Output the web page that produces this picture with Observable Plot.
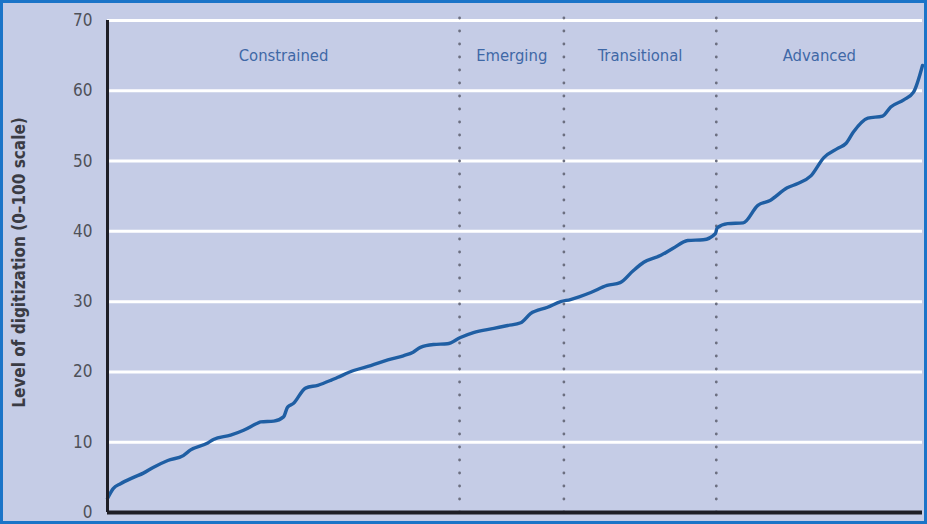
<!DOCTYPE html>
<html>
<head>
<meta charset="utf-8">
<script src="https://cdn.jsdelivr.net/npm/d3@7"></script>
<script src="https://cdn.jsdelivr.net/npm/@observablehq/plot@0.6"></script>
<style>
  html, body { margin: 0; padding: 0; background: #c5cce6; }
  #frame {
    width: 927px; height: 524px; box-sizing: border-box;
    border: 3px solid #1b74c8; background: #c5cce6; overflow: hidden;
  }
  #frame svg { display: block; }
</style>
</head>
<body>
<div id="frame"></div>
<script>
// Country rank, expressed as percentile of countries (0–100), and level of digitization
const rank = [0.0, 0.7, 1.6, 3.2, 4.4, 5.6, 7.4, 9.3, 10.2, 12.3, 13.0, 15.1, 16.7, 18.4, 18.8, 20.4, 21.6, 22.1, 22.8, 24.3, 25.8, 27.4, 28.2, 30.2, 32.3, 34.4, 36.3, 37.5, 38.4, 40.0, 41.7, 43.3, 44.9, 47.4, 49.1, 50.7, 51.9, 54.0, 55.6, 56.8, 59.3, 61.3, 62.9, 64.5, 65.8, 67.9, 69.4, 71.2, 73.1, 74.6, 74.8, 76.1, 78.0, 79.8, 81.3, 83.4, 84.7, 86.3, 87.9, 89.6, 90.6, 91.5, 93.3, 95.1, 96.1, 97.7, 98.9, 100.0];
const level = [2.0, 3.4, 4.1, 5.0, 5.6, 6.4, 7.4, 8.1, 8.9, 9.9, 10.4, 11.0, 11.7, 12.7, 12.9, 13.0, 13.6, 15.0, 15.5, 17.7, 18.1, 18.8, 19.2, 20.2, 20.9, 21.7, 22.3, 22.8, 23.5, 23.9, 24.0, 24.9, 25.6, 26.2, 26.6, 27.0, 28.3, 29.2, 30.0, 30.3, 31.3, 32.3, 32.7, 34.4, 35.6, 36.6, 37.6, 38.7, 38.8, 39.7, 40.5, 41.1, 41.2, 43.7, 44.4, 46.2, 46.8, 47.9, 50.5, 51.8, 52.5, 54.1, 56.1, 56.4, 57.7, 58.7, 59.8, 63.6];
const regions = ["Constrained", "Emerging", "Transitional", "Advanced"];
const boundaries = [0, 43.2, 56.0, 74.7, 100];
const yTicks = [0, 10, 20, 30, 40, 50, 60, 70];
const yLabel = "Level of digitization (0\u2013100 scale)";

const series = rank.map((r, i) => ({rank: r, level: level[i]}));
const labels = regions.map((name, i) => ({name, mid: (boundaries[i] + boundaries[i + 1]) / 2}));
const dividers = boundaries.slice(1, -1);

const font = "'Liberation Sans Narrow', 'Arial Narrow', 'DejaVu Sans Condensed', 'Liberation Sans', sans-serif";

const chart = Plot.plot({
  width: 921,
  height: 518,
  marginLeft: 104,
  marginRight: 2,
  marginTop: 17,
  marginBottom: 9,
  style: {background: "transparent", fontFamily: font, fontStretch: "condensed", overflow: "visible"},
  x: {domain: [0, 100], axis: null},
  y: {domain: [0, 70], axis: null},
  marks: [
    Plot.ruleY(yTicks.filter(d => d > 0), {stroke: "white", strokeWidth: 3}),
    Plot.ruleX(dividers, {y1: 0, y2: 70.4, stroke: "#6c6f80", strokeWidth: 2.8, strokeDasharray: "0 13", strokeLinecap: "round"}),
    Plot.line(series, {x: "rank", y: "level", stroke: "#1f5ea3", strokeWidth: 3.4, curve: "monotone-x"}),
    Plot.ruleX([0], {y1: 0, y2: 70, stroke: "#1e1e26", strokeWidth: 3}),
    Plot.ruleY([0], {stroke: "#1e1e26", strokeWidth: 4}),
    Plot.axisY({ticks: yTicks, tickSize: 0, tickPadding: 15, label: null, fill: "#4f5159", fontSize: 17, fontFamily: font}),
    Plot.text(labels, {x: "mid", y: 65, text: "name", fill: "#3f68a6", fontSize: 16.5, fontFamily: font}),
    Plot.text([yLabel], {frameAnchor: "left", textAnchor: "middle", rotate: -90, dx: -88, dy: -4, fill: "#3a3b44", fontSize: 17, fontWeight: "bold", fontFamily: font})
  ]
});
document.getElementById("frame").appendChild(chart);
</script>
</body>
</html>
